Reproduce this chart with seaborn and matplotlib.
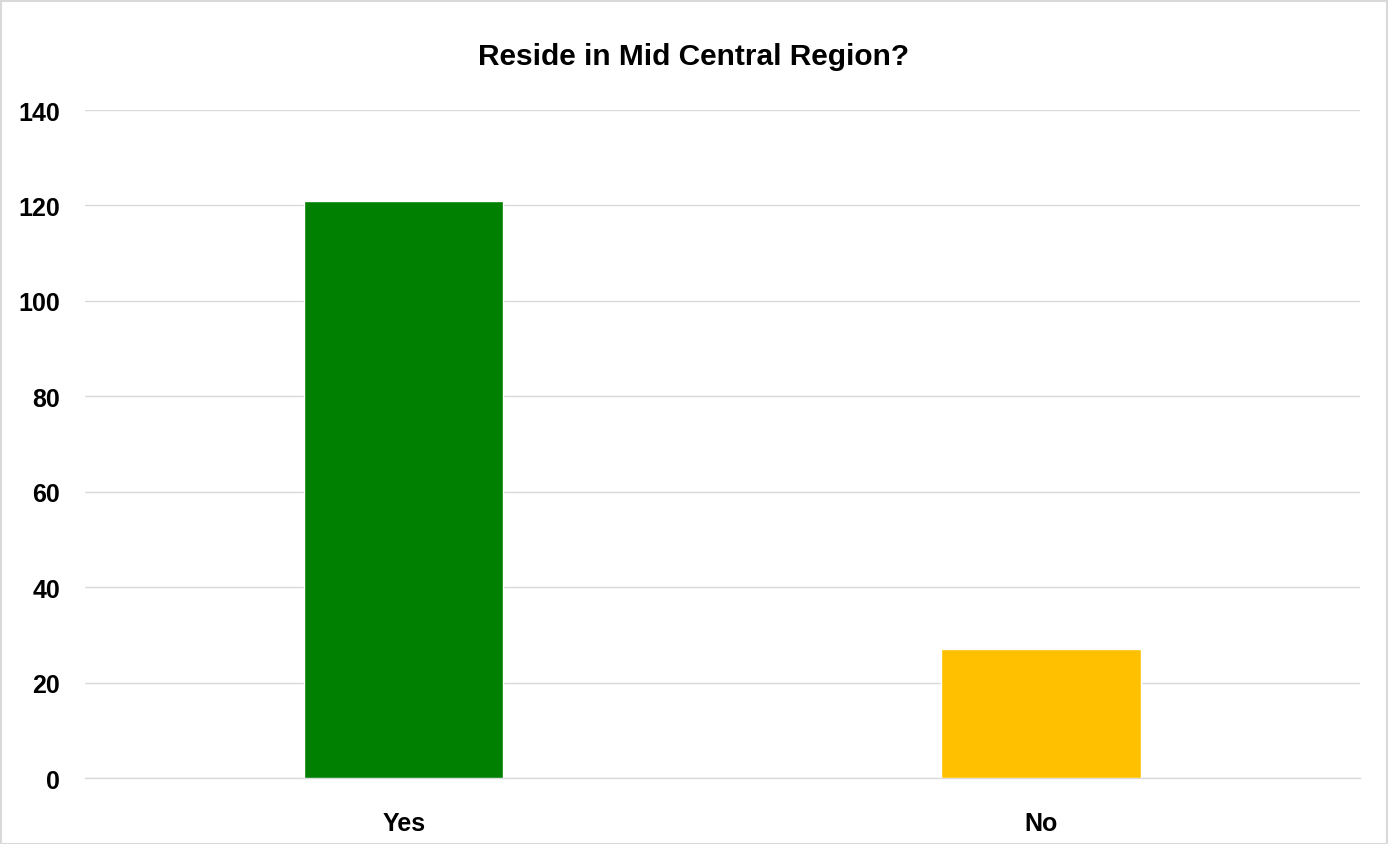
import matplotlib
matplotlib.use('Agg')
import matplotlib.pyplot as plt
import pandas as pd
import seaborn as sns

# Data
answers = ['Yes', 'No']
counts = [121, 27]
bar_colors = ['#008000', '#FFC000']

df = pd.DataFrame({'answer': answers, 'count': counts})

sns.set_style('white')
plt.rcParams['font.family'] = ['Liberation Sans', 'DejaVu Sans']
plt.rcParams['font.weight'] = 'bold'
plt.rcParams['text.color'] = 'black'
plt.rcParams['xtick.color'] = 'black'
plt.rcParams['ytick.color'] = 'black'

fig = plt.figure(figsize=(13.88, 8.45), dpi=100)
ax = fig.add_axes([0.0612, 0.0781, 0.9186, 0.7905])

sns.barplot(data=df, x='answer', y='count', hue='answer', palette=bar_colors,
            width=0.313, legend=False, ax=ax, saturation=1, zorder=3)

ax.set_ylim(0, 140)
ax.set_yticks(range(0, 141, 20))
ax.set_xlim(-0.5, 1.5)
ax.grid(axis='y', color='#D9D9D9', linewidth=1.0, zorder=0)
ax.set_axisbelow(True)
for side in ['left', 'right', 'top']:
    ax.spines[side].set_visible(False)
ax.spines['bottom'].set_color('#D9D9D9')
ax.spines['bottom'].set_linewidth(1.0)
ax.tick_params(axis='y', length=0, pad=18, labelsize=18, labelcolor='black')
ax.tick_params(axis='x', length=0, pad=24, labelsize=18, labelcolor='black')
for lbl in ax.get_xticklabels() + ax.get_yticklabels():
    lbl.set_fontweight('bold')
ax.set_xlabel('')
ax.set_ylabel('')

fig.text(0.5, 0.933, 'Reside in Mid Central Region?', ha='center', va='center',
         fontsize=21.5, fontweight='bold', color='black')

# light chart border
fig.patches.append(plt.Rectangle((0.0005, 0.0005), 0.999, 0.997, transform=fig.transFigure,
                                 fill=False, edgecolor='#D9D9D9', linewidth=1.5))

fig.savefig('out.png', dpi=100)
